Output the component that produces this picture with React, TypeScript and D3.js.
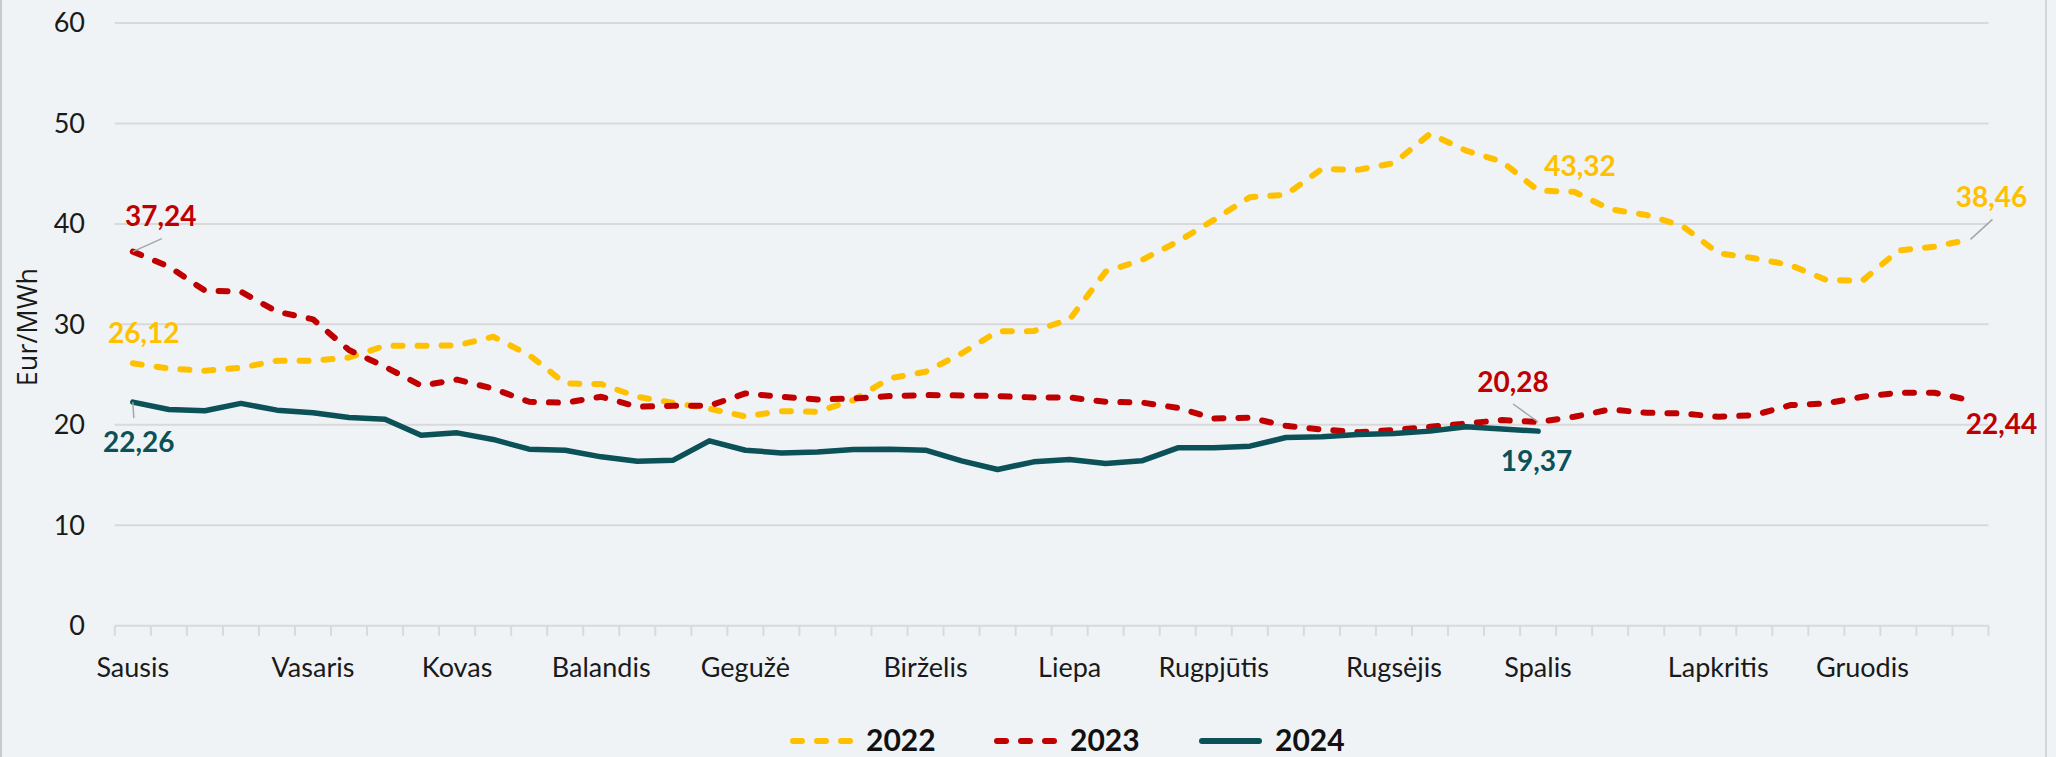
import React from "react";
import * as d3 from "d3";

const W = 2056;
const H = 757;

const weeks: string[] = [
  "Sausis", "", "", "", "", "Vasaris", "", "", "", "Kovas", "", "", "", "Balandis", "", "", "", "Gegužė", "", "", "", "",
  "Birželis", "", "", "", "Liepa", "", "", "", "Rugpjūtis", "", "", "", "", "Rugsėjis", "", "", "", "Spalis", "", "", "", "",
  "Lapkritis", "", "", "", "Gruodis", "", "", "",
];

const v2022: number[] = [
  26.12, 25.6, 25.38, 25.68, 26.38, 26.38, 26.7, 27.87, 27.87, 27.9, 28.77, 26.94, 24.12, 24.05, 22.79, 22.19, 21.6,
  20.83, 21.36, 21.3, 22.46, 24.62, 25.28, 27.1, 29.3, 29.33, 30.5, 35.25, 36.4, 38.24, 40.4, 42.66, 42.9, 45.48, 45.38,
  46.05, 48.97, 47.3, 46.2, 43.32, 43.2, 41.46, 40.9, 39.8, 37.08, 36.58, 35.9, 34.42, 34.35, 37.34, 37.74, 38.46,
];

const v2023: number[] = [
  37.24, 35.75, 33.36, 33.26, 31.26, 30.5, 27.44, 25.78, 23.9, 24.5, 23.6, 22.29, 22.19, 22.79, 21.8, 21.9, 21.9, 23.12,
  22.79, 22.52, 22.62, 22.86, 22.96, 22.92, 22.86, 22.72, 22.72, 22.29, 22.22, 21.69, 20.63, 20.7, 19.9, 19.53, 19.27,
  19.47, 19.8, 20.13, 20.47, 20.28, 20.8, 21.53, 21.2, 21.13, 20.8, 20.96, 21.96, 22.13, 22.79, 23.19, 23.19, 22.44,
];

const v2024: number[] = [
  22.26, 21.53, 21.4, 22.13, 21.46, 21.2, 20.73, 20.56, 18.97, 19.2, 18.54, 17.57, 17.47, 16.81, 16.38, 16.48, 18.4,
  17.47, 17.2, 17.3, 17.54, 17.57, 17.47, 16.41, 15.55, 16.31, 16.54, 16.15, 16.41, 17.71, 17.71, 17.87, 18.74, 18.8,
  19.04, 19.14, 19.37, 19.8, 19.57, 19.37,
];

const yTicks: number[] = [0, 10, 20, 30, 40, 50, 60];

const seriesNames = ["2022", "2023", "2024"];
const seriesColors = ["#FFC000", "#C00000", "#0B5157"];

// data labels: series index, point index, label offset, leader end offset
const dataLabels = [
  { s: 1, i: 0, text: "37,24", dx: 28, dy: -35, lx: 29, ly: -13 },
  { s: 0, i: 0, text: "26,12", dx: 11, dy: -30, lx: 0, ly: 0 },
  { s: 2, i: 0, text: "22,26", dx: 6, dy: 40, lx: 1, ly: 16 },
  { s: 0, i: 39, text: "43,32", dx: 42, dy: -24, lx: 0, ly: 0 },
  { s: 1, i: 39, text: "20,28", dx: -25, dy: -40, lx: -25, ly: -18 },
  { s: 2, i: 39, text: "19,37", dx: -1.5, dy: 30, lx: 0, ly: 0 },
  { s: 0, i: 51, text: "38,46", dx: 21, dy: -42, lx: 22, ly: -20 },
  { s: 1, i: 51, text: "22,44", dx: 31, dy: 24, lx: 0, ly: 0 },
];

export default function App() {
  const allSeries = [v2022, v2023, v2024];
  const x = d3.scaleBand<number>().domain(weeks.map((_, i) => i)).range([114.8, 1988.5]).padding(0);
  const bw = x.bandwidth();
  const cx = (i: number) => (x(i) as number) + bw / 2;
  const y = d3.scaleLinear().domain([0, 60]).range([625.7, 23]);

  const line = d3
    .line<number>()
    .x((_, i) => cx(i))
    .y((d) => y(d))
    .curve(d3.curveLinear);

  const font = "Lato, 'Open Sans', sans-serif";
  const boundaries = d3.range(weeks.length + 1).map((i) => (i < weeks.length ? (x(i) as number) : (x(weeks.length - 1) as number) + bw));

  const legendStart = [790, 994, 1199];

  return (
    <svg
      width={W}
      height={H}
      style={{ position: "absolute", left: 0, top: 0, display: "block" }}
      xmlns="http://www.w3.org/2000/svg"
    >
      <rect x={0} y={0} width={W} height={H} fill="#EFF3F6" />
      <line x1={1} y1={0} x2={1} y2={H} stroke="#B9BEC4" strokeWidth={1.5} />
      <line x1={2046} y1={0} x2={2046} y2={H} stroke="#C9CED3" strokeWidth={1.5} />

      {/* gridlines */}
      {yTicks.map((t) => (
        <line key={"g" + t} x1={x.range()[0]} x2={x.range()[1]} y1={y(t)} y2={y(t)} stroke="#D9D9D9" strokeWidth={2} />
      ))}
      {/* x ticks */}
      {boundaries.map((bx, i) => (
        <line key={"t" + i} x1={bx} x2={bx} y1={y(0)} y2={y(0) + 10} stroke="#D9D9D9" strokeWidth={2} />
      ))}

      {/* y tick labels */}
      {yTicks.map((t) => (
        <text key={"yl" + t} x={85} y={y(t)} dy="0.35em" textAnchor="end" fontFamily={font} fontSize={27} fill="#1A1A1A">
          {t}
        </text>
      ))}

      {/* x labels */}
      {weeks.map((w, i) =>
        w ? (
          <text key={"xl" + i} x={cx(i)} y={677} textAnchor="middle" fontFamily={font} fontSize={27} fill="#1A1A1A">
            {w}
          </text>
        ) : null
      )}

      {/* y axis title */}
      <text
        transform={`translate(37,327) rotate(-90)`}
        textAnchor="middle"
        fontFamily="'Open Sans', sans-serif"
        fontSize={27}
        fill="#1A1A1A"
      >
        Eur/MWh
      </text>

      {/* series */}
      {allSeries.map((vals, s) => (
        <path
          key={"s" + s}
          d={line(vals) || ""}
          fill="none"
          stroke={seriesColors[s]}
          strokeWidth={s === 2 ? 5.5 : 6}
          strokeLinecap="round"
          strokeLinejoin="round"
          strokeDasharray={s === 2 ? undefined : "9 15"}
        />
      ))}

      {/* leader lines and data labels */}
      {dataLabels.map((l, k) => {
        const px = cx(l.i);
        const py = y(allSeries[l.s][l.i]);
        return (
          <g key={"dl" + k}>
            {l.lx !== 0 || l.ly !== 0 ? (
              <line x1={px} y1={py} x2={px + l.lx} y2={py + l.ly} stroke="#A6A6A6" strokeWidth={1.5} />
            ) : null}
            <text
              x={px + l.dx}
              y={py + l.dy}
              dy="0.35em"
              textAnchor="middle"
              fontFamily={font}
              fontWeight="bold"
              fontSize={28}
              fill={seriesColors[l.s]}
            >
              {l.text}
            </text>
          </g>
        );
      })}

      {/* legend */}
      {seriesNames.map((n, s) => (
        <g key={"lg" + s}>
          <line
            x1={legendStart[s] + 3}
            x2={legendStart[s] + 60}
            y1={741}
            y2={741}
            stroke={seriesColors[s]}
            strokeWidth={6}
            strokeLinecap="round"
            strokeDasharray={s === 2 ? undefined : "9 15"}
          />
          <text x={legendStart[s] + 76} y={751} fontFamily={font} fontWeight="bold" fontSize={30} fill="#111">
            {n}
          </text>
        </g>
      ))}
    </svg>
  );
}
